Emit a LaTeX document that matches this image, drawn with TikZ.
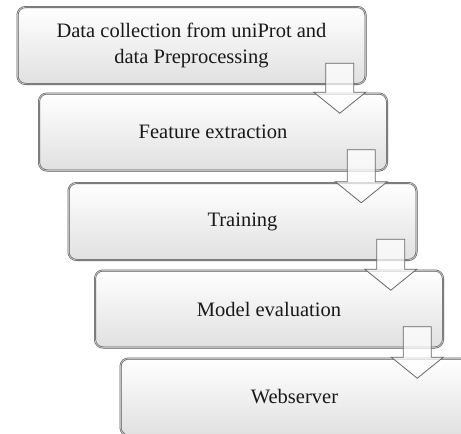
\documentclass[tikz,border=0pt]{standalone}
\usepackage{fontspec}
\setmainfont{Liberation Serif}
\usetikzlibrary{calc}

\tikzset{
  stagebox/.style={
    rounded corners=8pt,
    draw=black!65, double=black!25, double distance=0.9pt, line width=0.55pt,
    top color=white, bottom color=black!12,
    minimum width=348pt, minimum height=77pt,
    align=center, inner sep=0pt,
    font=\fontsize{20.5}{26}\selectfont, text=black!90
  },
  flowarrow/.style={
    draw=black!60, line width=0.8pt, fill=white, fill opacity=0.72,
    line join=miter
  }
}

% block arrow from the lower right of one box into the next one
\newcommand\stagearrow[2]{%
  \path let \p1=($(#1.south east)+(-26pt,21pt)$), \p2=(#2.north) in
    [flowarrow] (\x1-14pt,\y1) -- (\x1+14pt,\y1) -- (\x1+14pt,\y2+1pt)
    -- (\x1+26pt,\y2+1pt) -- (\x1,\y2-20pt) -- (\x1-26pt,\y2+1pt)
    -- (\x1-14pt,\y2+1pt) -- cycle;%
}

\begin{document}
\begin{tikzpicture}[x=1pt,y=-1pt]
  \clip (0,0) rectangle (461,434);
  \fill[white] (0,0) rectangle (461,434);

  \node[stagebox] (b1) at (191.5,45.5) {Data collection from uniProt and\\data Preprocessing};
  \node[stagebox] (b2) at (213,132) {Feature extraction};
  \node[stagebox] (b3) at (242.5,221.5) {Training};
  \node[stagebox] (b4) at (269,309) {Model evaluation};
  \node[stagebox] (b5) at (294.5,397) {Webserver};

  \stagearrow{b1}{b2}
  \stagearrow{b2}{b3}
  \stagearrow{b3}{b4}
  \stagearrow{b4}{b5}
\end{tikzpicture}
\end{document}
